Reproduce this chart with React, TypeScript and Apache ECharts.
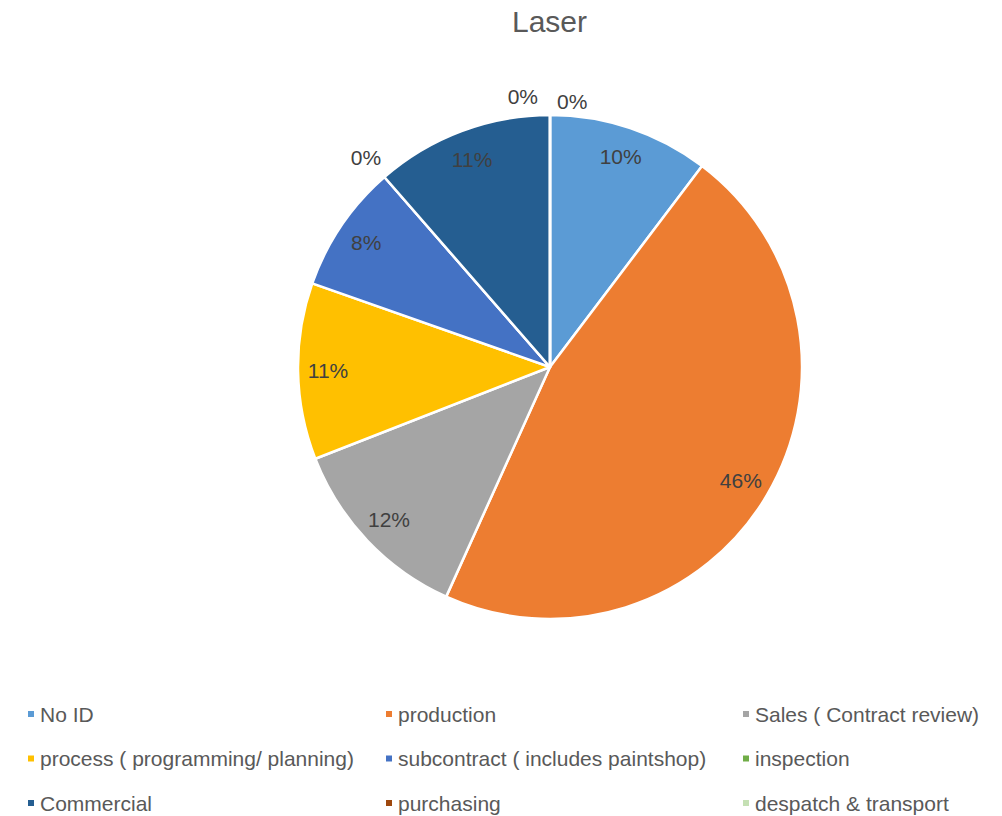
import React, { useEffect, useRef } from "react";
import * as echarts from "echarts";

const categories = [
  "No ID",
  "production",
  "Sales ( Contract review)",
  "process ( programming/ planning)",
  "subcontract ( includes paintshop)",
  "inspection",
  "Commercial",
  "purchasing",
  "despatch & transport",
];
const values = [10.3, 46.4, 12.3, 11.3, 8.2, 0, 11.4, 0, 0];
const colors = [
  "#5B9BD5",
  "#ED7D31",
  "#A5A5A5",
  "#FFC000",
  "#4472C4",
  "#70AD47",
  "#255E91",
  "#9E480E",
  "#C5E0B4",
];
const legendColumns = [
  [categories[0], categories[3], categories[6]],
  [categories[1], categories[4], categories[7]],
  [categories[2], categories[5], categories[8]],
];
const legendLefts = [26, 384, 741];

const FONT = "'Liberation Sans', Arial, sans-serif";

export default function App() {
  const ref = useRef<HTMLDivElement>(null);
  useEffect(() => {
    if (!ref.current) return;
    const chart = echarts.init(ref.current, undefined, { renderer: "svg" });
    const total = values.reduce((a, b) => a + b, 0);
    const pct = (v: number) => Math.round((v / total) * 100) + "%";
    const data = categories.map((name, i) => ({
      name,
      value: values[i],
      itemStyle: { color: colors[i] },
    }));
    const labelData = categories.map((name, i) => ({
      name,
      value: values[i],
      label: values[i] === 0 ? { show: false } : { show: true },
    }));
    const zeroData = categories.map((name, i) => ({
      name,
      value: values[i],
      label: values[i] === 0 ? { show: true } : { show: false },
    }));
    chart.setOption({
      animation: false,
      backgroundColor: "#ffffff",
      textStyle: { fontFamily: FONT },
      title: {
        text: "Laser",
        left: 512,
        top: 6,
        padding: 0,
        textStyle: { fontFamily: FONT, fontSize: 30, fontWeight: "normal", color: "#595959" },
      },
      legend: legendColumns.map((col, i) => ({
        data: col,
        orient: "vertical",
        left: legendLefts[i],
        top: 702,
        padding: 0,
        itemWidth: 8,
        itemHeight: 8,
        icon: "rect",
        itemGap: 20.5,
        selectedMode: false,
        textStyle: { fontFamily: FONT, fontSize: 21, color: "#595959", lineHeight: 24 },
      })),
      series: [
        {
          type: "pie",
          center: [550, 367],
          radius: [0, 252],
          startAngle: 90,
          clockwise: true,
          silent: true,
          label: { show: false },
          labelLine: { show: false },
          itemStyle: { borderColor: "#ffffff", borderWidth: 2.5 },
          data,
        },
        {
          type: "pie",
          center: [550, 367],
          radius: [186, 252],
          startAngle: 90,
          clockwise: true,
          silent: true,
          legendHoverLink: false,
          itemStyle: { color: "transparent", borderWidth: 0 },
          label: {
            position: "inside",
            fontFamily: FONT,
            fontSize: 21,
            color: "#404040",
            formatter: (p: any) => pct(p.value),
          },
          labelLine: { show: false },
          data: labelData,
        },
        {
          type: "pie",
          center: [550, 367],
          radius: [0, 252],
          startAngle: 90,
          clockwise: true,
          silent: true,
          legendHoverLink: false,
          stillShowZeroSum: true,
          avoidLabelOverlap: false,
          itemStyle: { color: "transparent", borderWidth: 0 },
          label: {
            position: "outside",
            fontFamily: FONT,
            fontSize: 21,
            color: "#404040",
            formatter: (p: any) => pct(p.value),
          },
          labelLine: { show: false, length: 8, length2: 0 },
          labelLayout: (p: any) => {
            if (p.dataIndex === 5) return { dx: 7, dy: -14 };
            if (p.dataIndex === 7) return { align: "right", dx: -7, dy: -11 };
            if (p.dataIndex === 8) return { align: "left", dx: 12, dy: -6 };
            return {};
          },
          data: zeroData,
        },
      ],
    });
    return () => chart.dispose();
  }, []);
  return (
    <div
      ref={ref}
      style={{ position: "fixed", left: 0, top: 0, width: 1002, height: 816 }}
    />
  );
}
